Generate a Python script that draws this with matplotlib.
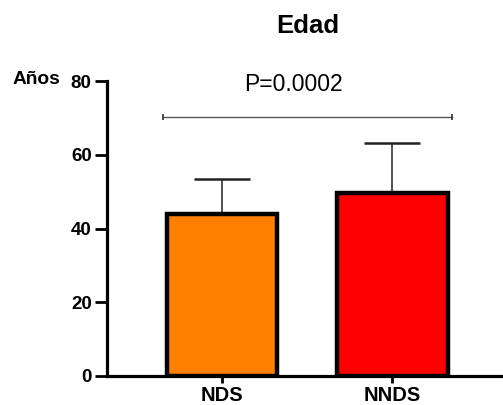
import numpy as np
import matplotlib.pyplot as plt

plt.rcParams['font.family'] = ['Liberation Sans', 'DejaVu Sans']

groups = ['NDS', 'NNDS']
means = [44.0, 49.6]
sd_up = [9.4, 13.7]
colors = ['#FF8000', '#FF0000']
p_text = 'P=0.0002'
sig_y = 70.3

fig = plt.figure(figsize=(5.03, 4.05), dpi=100)
ax = fig.add_axes([107 / 503, 1 - 376 / 405, 1 - 107 / 503, (376 - 81) / 405])

x = np.arange(len(groups))
ax.bar(x, means, width=0.65, color=colors, edgecolor='black', linewidth=3.2, zorder=2)
ax.errorbar(x, means, yerr=[np.zeros(len(sd_up)), sd_up], fmt='none',
            ecolor='#222222', elinewidth=1.1, capsize=20.5, capthick=1.8, zorder=1)

ax.plot([-0.35, 1.35], [sig_y, sig_y], color='#555555', lw=1.0)
ax.plot([-0.35, 1.35], [sig_y, sig_y], '|', color='#333333', ms=4, mew=1.2)
ax.text(0.42, 79.0, p_text, ha='center', va='center', fontsize=16.5)

ax.set_xlim(-0.676, 1.65)
ax.set_ylim(0, 80)
ax.set_yticks([0, 20, 40, 60, 80])
ax.set_xticks(x)
ax.set_xticklabels(groups)
for lab in ax.get_yticklabels():
    lab.set_fontweight('bold')
    lab.set_fontsize(13.5)
for lab in ax.get_xticklabels():
    lab.set_fontweight('bold')
    lab.set_fontsize(14.5)
ax.tick_params(axis='y', width=2, length=9, pad=2)
ax.tick_params(axis='x', width=2, length=5, pad=2)
for s in ['top', 'right']:
    ax.spines[s].set_visible(False)
for s in ['left', 'bottom']:
    ax.spines[s].set_linewidth(2.3)
ax.spines['left'].set_bounds(0, 80)

fig.text(13 / 503, 1 - 80 / 405, 'Años', ha='left', va='center', fontsize=13.8, fontweight='bold')
fig.text(308 / 503, 1 - 26 / 405, 'Edad', ha='center', va='center', fontsize=18.5, fontweight='bold')

fig.savefig('out.png', dpi=100)
